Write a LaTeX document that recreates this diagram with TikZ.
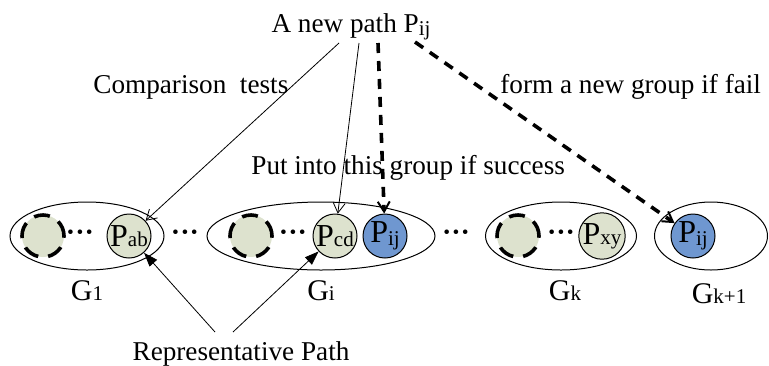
\documentclass[tikz,border=0pt]{standalone}
\usepackage{fontspec}
\setmainfont{Liberation Serif}
\usetikzlibrary{arrows.meta,shapes.geometric}
\definecolor{pgreen}{RGB}{221,226,206}
\definecolor{pblue}{RGB}{111,151,208}
\newcommand{\sub}[1]{{\fontsize{10.5}{11}\selectfont #1}}

\begin{document}
\begin{tikzpicture}[x=0.5pt,y=-0.5pt,
		grp/.style={draw,ellipse,line width=0.5pt,inner sep=0pt,minimum height=34pt},
		pnode/.style={draw,circle,fill=pgreen,line width=0.5pt,minimum size=22pt,inner sep=0pt,font=\fontsize{16}{16}\selectfont},
		pnew/.style={pnode,fill=pblue},
		ghost/.style={draw,circle,fill=pgreen,minimum size=21pt,inner sep=0pt,line width=1.8pt,dash pattern=on 8pt off 5pt},
		dotsnode/.style={inner sep=0pt,font=\fontsize{14}{14}\bfseries\selectfont},
		lbl/.style={font=\fontsize{13.6}{15}\selectfont,inner sep=0pt},
		glbl/.style={font=\fontsize{15}{16}\selectfont,inner sep=0pt,anchor=base},
		testarrow/.style={-{Straight Barb[length=5pt,width=6pt]},line width=0.4pt},
		putarrow/.style={-{Straight Barb[length=5pt,width=6pt,line width=1pt]},line width=1.8pt,dash pattern=on 5pt off 4pt},
		reparrow/.style={-{Triangle[length=7pt,width=5pt]},line width=0.4pt}]
	\useasboundingbox (0,0) rectangle (769,365);
	\node[grp,minimum width=77pt] (G1) at (87,236) {};
	\node[grp,minimum width=114pt] (Gi) at (321,236) {};
	\node[grp,minimum width=75.5pt] (Gk) at (561,236) {};
	\node[grp,minimum width=56.5pt] (Gk1) at (711,236) {};
	\node[ghost] (E1) at (43,236) {};
	\node[ghost] (Ei) at (251,236) {};
	\node[ghost] (Ek) at (518,236) {};
	\node[pnode] (Pab) at (129,236) {P\sub{ab}};
	\node[pnode] (Pcd) at (335,236) {P\sub{cd}};
	\node[pnew] (Pij) at (385,236) {P\raisebox{-1.5pt}{\sub{ij}}};
	\node[pnode] (Pxy) at (602,236) {P\sub{xy}};
	\node[pnew] (Pnew) at (693,236) {P\raisebox{-1.5pt}{\sub{ij}}};
	\node[dotsnode] (d1) at (80,236) {···};
	\node[dotsnode] (d2) at (185,236) {···};
	\node[dotsnode] (d3) at (293,236) {···};
	\node[dotsnode] (d4) at (456,236) {···};
	\node[dotsnode] (d5) at (561,236) {···};
	\node[glbl] (L1) at (87,300) {G\sub{1}};
	\node[glbl] (Li) at (321,300) {G\sub{i}};
	\node[glbl] (Lk) at (565,300) {G\sub{k}};
	\node[glbl] (Lk1) at (719,303) {G\sub{k+1}};
	\node[lbl,anchor=base] (newpath) at (351,32) {A new path P\raisebox{-1.5pt}{\sub{ij}}};
	\node[lbl,anchor=base west] (tests) at (93,93) {Comparison\ \ tests};
	\node[lbl,anchor=base west] (fail) at (500,93) {form a new group if fail};
	\node[lbl,anchor=base west] (success) at (251,174) {Put into this group if success};
	\node[lbl,anchor=base] (rep) at (241,360) {Representative Path};
	\coordinate (s1) at (339,43);
	\coordinate (s2) at (359,43);
	\coordinate (s3) at (378,43);
	\coordinate (s4) at (415,42);
	\coordinate (r1) at (215,332);
	\coordinate (r2) at (233,332);
	\draw[testarrow] (s1) to (Pab);
	\draw[testarrow] (s2) to (Pcd);
	\draw[putarrow] (s3) to (Pij);
	\draw[putarrow] (s4) to (Pnew);
	\draw[reparrow] (r1) to (Pab);
	\draw[reparrow] (r2) to (Pcd);
\end{tikzpicture}
\end{document}
